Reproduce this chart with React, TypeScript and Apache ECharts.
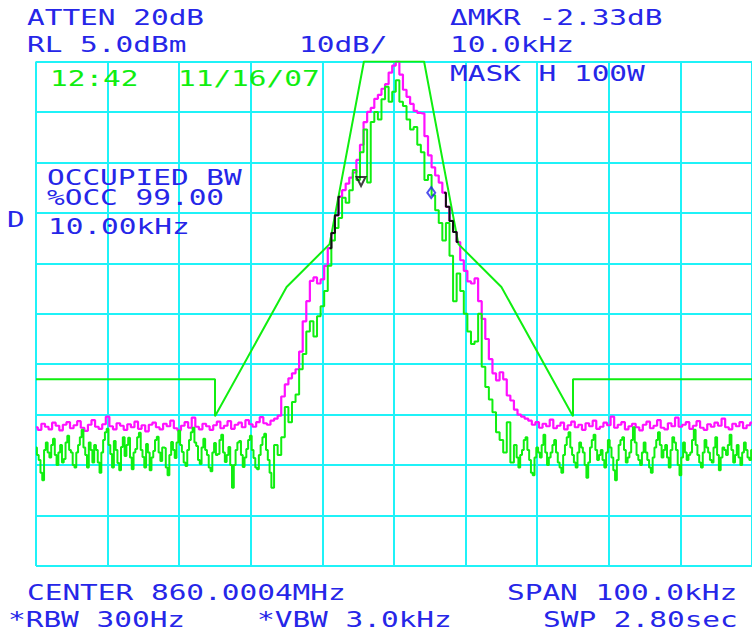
import React, { useEffect, useRef } from "react";
import * as echarts from "echarts";

// ---------- DATA ----------
// Frequency offset from centre (kHz) and level in dB relative to the reference
// level (top graticule line = 0 dB, 10 dB/div).

// Max-hold (magenta) trace, sampled every 0.5 kHz
const maxHoldTraceLeftFloor = [
  -72.5, -73.0, -71.8, -72.4, -72.9, -71.6, -72.2, -73.1, -72.0, -71.5,
  -72.7, -72.1, -71.3, -72.6, -73.2, -72.0, -71.1, -72.4, -72.8, -71.9,
  -70.4, -72.3, -72.9, -71.7, -72.2, -73.0, -71.9, -72.5, -71.4, -72.8,
  -72.1, -73.3, -72.0, -71.6, -72.5, -72.9, -71.8, -72.3, -71.2, -72.7,
  -73.1, -72.2, -71.5, -72.6, -70.6, -72.4, -72.9, -71.8, -72.3, -73.0,
  -72.1, -71.4, -72.7, -72.2, -71.3, -72.8, -72.0, -71.6, -72.5, -71.1,
  -71.9, -72.4, -71.5, -70.5, -71.7, -72.0, -71.2, -70.8,
];
const maxHoldTraceSkirt = [
  -70.2, -66.4, -64.0, -62.8, -61.8, -61.0, -57.5, -51.5, -47.5, -43.5,
  -42.8, -44.0, -43.2, -40.5, -37.0, -34.0, -30.5, -26.8, -25.5, -24.2,
  -23.0, -22.0, -19.5, -16.5, -12.0, -10.0, -9.2, -7.4, -6.6, -5.4,
  -4.5, -2.2, -0.8, 0.0, -2.6, -5.6, -7.0, -8.4, -9.8, -10.2,
  -10.3, -14.8, -18.6, -21.0, -22.6, -24.0, -26.0, -28.8, -31.6, -33.8,
  -35.8, -39.4, -41.5, -43.6, -44.0, -43.0, -47.5, -51.0, -55.0, -59.0,
  -61.8, -63.2, -61.6, -63.0, -66.2, -67.2, -69.0, -70.0, -70.4, -70.8,
  -71.2,
];
const maxHoldTraceRightFloor = [
  -72.0, -71.5, -72.6, -71.8, -72.3, -71.0, -72.7, -72.2, -71.6, -72.9,
  -72.1, -71.4, -72.5, -72.0, -73.0, -71.7, -72.3, -71.2, -72.8, -72.4,
  -71.6, -72.1, -70.4, -72.6, -72.0, -71.5, -72.9, -72.3, -71.8, -72.5,
  -73.1, -72.0, -71.4, -72.7, -72.2, -71.1, -72.6, -72.9, -71.7, -72.3,
  -70.6, -72.4, -72.0, -71.5, -72.8, -72.2, -71.3, -72.6, -73.0, -71.9,
  -72.4, -71.6, -72.2, -70.8, -72.5, -72.9, -71.8, -72.3, -71.5, -72.7,
  -72.1, -71.6,
];

// Live (green) trace: floors every 0.25 kHz, skirt every 0.5 kHz
const liveTraceLeftFloor = [
  -76.5, -78.0, -79.0, -81.5, -83.0, -77.0, -75.5, -77.5, -78.5, -76.0, -74.8, -78.0,
  -80.0, -77.5, -76.0, -79.5, -78.8, -75.5, -74.2, -77.0, -77.5, -80.0, -80.5, -77.5,
  -76.0, -74.5, -73.0, -76.5, -78.0, -80.5, -75.5, -77.0, -79.5, -76.0, -77.0, -79.5,
  -81.5, -77.5, -75.0, -73.5, -72.8, -76.0, -77.8, -80.5, -75.2, -77.0, -79.6, -81.0,
  -76.4, -74.5, -78.2, -76.0, -74.6, -78.5, -80.8, -77.5, -76.8, -74.5, -73.6, -77.0,
  -78.4, -80.5, -75.8, -77.5, -81.0, -78.5, -77.2, -75.0, -74.4, -77.5, -79.2, -76.5,
  -76.6, -80.5, -82.0, -78.0, -75.4, -77.0, -78.6, -75.5, -73.2, -76.0, -77.4, -79.5,
  -80.2, -77.0, -75.0, -73.5, -72.6, -75.5, -76.2, -79.0, -79.8, -76.5, -74.8, -77.0,
  -78.0, -80.5, -81.2, -77.5, -75.6, -78.0, -77.8, -75.0, -74.0, -77.5, -79.4, -78.0,
  -76.4, -80.0, -84.5, -80.0, -77.0, -75.5, -75.2, -78.0, -80.4, -78.5, -76.8, -75.0,
  -74.2, -77.0, -78.6, -80.5, -80.8, -78.0, -76.0, -74.5, -73.8, -77.0, -79.0, -81.5,
];
const liveTraceSkirt = [
  -84.5, -76.0, -78.0, -74.5, -68.5, -71.5, -67.5, -66.0, -61.0, -58.0,
  -53.5, -51.5, -54.5, -50.5, -48.5, -45.5, -40.5, -35.5, -33.0, -31.0,
  -27.0, -28.0, -25.5, -21.5, -23.5, -18.0, -13.5, -24.0, -12.0, -10.0,
  -11.5, -7.5, -5.0, -8.0, -6.0, -3.7, -8.0, -8.8, -11.5, -13.5,
  -13.0, -16.5, -18.0, -23.5, -22.5, -26.5, -29.5, -32.0, -35.5, -32.0,
  -38.5, -47.5, -42.0, -45.5, -50.0, -53.5, -56.0, -55.5, -50.0, -60.5,
  -64.5, -67.0, -69.5, -73.5, -75.0, -77.5, -71.5, -79.5,
];
const liveTraceRightFloor = [
  -76.0, -78.5, -80.5, -78.0, -77.0, -75.0, -74.5, -77.0, -79.0, -81.5, -82.0, -78.5,
  -76.5, -77.5, -78.5, -76.0, -74.0, -77.5, -80.0, -78.5, -77.5, -76.0, -75.0, -77.5,
  -79.5, -80.5, -81.5, -78.0, -76.0, -74.5, -73.5, -76.5, -78.0, -79.5, -80.5, -77.5,
  -75.5, -76.5, -77.5, -80.0, -82.5, -79.5, -76.5, -75.0, -74.0, -77.0, -79.0, -78.0,
  -77.0, -79.0, -80.5, -77.5, -75.0, -76.5, -78.5, -81.0, -83.0, -79.0, -76.0, -75.0,
  -74.5, -77.0, -79.5, -78.5, -77.5, -75.0, -72.5, -75.5, -78.0, -79.0, -80.0, -77.5,
  -75.5, -77.5, -79.0, -80.5, -81.5, -78.5, -76.5, -75.0, -73.5, -76.0, -78.5, -77.0,
  -76.0, -78.5, -80.5, -77.0, -74.5, -75.5, -77.0, -80.0, -82.0, -78.5, -75.5, -77.5,
  -79.0, -78.0, -77.5, -75.0, -73.0, -76.0, -78.0, -79.5, -80.5, -77.5, -75.0, -76.5,
  -77.5, -79.0, -79.5, -76.5, -74.5, -78.0, -81.0, -78.5, -76.5, -77.0, -78.0, -76.0,
  -74.0, -77.0, -79.5, -78.0, -76.0, -78.5, -80.0, -77.5, -75.5, -77.0, -78.5, -79.0,
  -77.0,
];

// Sweep segments: where each block of samples starts and its spacing (kHz)
const maxHoldSegments = [
  { startKHz: -50, stepKHz: 0.5, values: maxHoldTraceLeftFloor },
  { startKHz: -16, stepKHz: 0.5, values: maxHoldTraceSkirt },
  { startKHz: 19.5, stepKHz: 0.5, values: maxHoldTraceRightFloor },
];
const liveSegments = [
  { startKHz: -50, stepKHz: 0.25, values: liveTraceLeftFloor },
  { startKHz: -17, stepKHz: 0.5, values: liveTraceSkirt },
  { startKHz: 17, stepKHz: 0.25, values: liveTraceRightFloor },
];

// Limit mask breakpoints
const maskFreqKHz = [-50, -25, -25, -15, -9, -4.2, 4.2, 9, 15, 25, 25, 50];
const maskLevelDb = [-63, -63, -70.3, -44.7, -36.2, 0, 0, -36.2, -44.7, -70.3, -63, -63];

// Portions of the max-hold trace drawn dark where it touches the mask
const overlapLeftKHz = [-9, -8.5, -8, -7.5];
const overlapLeftDb = [-37.0, -34.0, -30.5, -26.8];
const overlapRightKHz = [7, 7.5, 8, 8.5, 9];
const overlapRightDb = [-26.0, -28.8, -31.6, -33.8, -35.8];

// Markers: reference marker and delta marker
const refMarker = [-4.6, -23.8];
const deltaMarker = [5.2, -26.0];

// Axis ranges
const FREQ_MIN = -50, FREQ_MAX = 50, FREQ_DIV = 10;
const DB_MIN = -100, DB_MAX = 0, DB_DIV = 10;

// Annotation texts
const headerTexts = ["ATTEN 20dB", "RL 5.0dBm", "10dB/", "ΔMKR -2.33dB", "10.0kHz", "MASK H 100W"];
const timeStamp = ["12:42", "11/16/07"];
const obwTexts = ["OCCUPIED BW", "%OCC 99.00", "10.00kHz", "D"];
const footerTexts = ["CENTER 860.0004MHz", "SPAN 100.0kHz", "*RBW 300Hz", "*VBW 3.0kHz", "SWP 2.80sec"];

// ---------- STYLE / LAYOUT ----------
const CYAN = "#1ff2f8";
const MAGENTA = "#ff10ff";
const GREEN = "#10ee10";
const BLUE = "#2626e8";
const BLACK = "#101010";
const FONT = '22px "DejaVu Sans Mono", "Liberation Mono", monospace';
const FONT_SCALE_X = 1.337;

type Segment = { startKHz: number; stepKHz: number; values: number[] };

const buildTrace = (segments: Segment[]) =>
  segments.flatMap((s) => s.values.map((v, i) => [s.startKHz + i * s.stepKHz, v]));

const zip = (xs: number[], ys: number[]) => xs.map((x, i) => [x, ys[i]]);

function txt(text: string, x: number, y: number, fill: string) {
  return {
    type: "text",
    x,
    y,
    scaleX: FONT_SCALE_X,
    z: 100,
    silent: true,
    style: { text, x: 0, y: 0, font: FONT, fill, align: "left", verticalAlign: "middle" },
  };
}

export default function App() {
  const ref = useRef<HTMLDivElement>(null);

  useEffect(() => {
    if (!ref.current) return;
    const chart = echarts.init(ref.current, null, { renderer: "svg" });

    const magenta = buildTrace(maxHoldSegments);
    const green = buildTrace(liveSegments);

    const graphic = [
      txt(headerTexts[0], 27, 17, BLUE),
      txt(headerTexts[1], 27, 44, BLUE),
      txt(headerTexts[2], 299, 44, BLUE),
      txt(headerTexts[3], 450, 17, BLUE),
      txt(headerTexts[4], 450, 44, BLUE),
      txt(headerTexts[5], 450, 73, BLUE),
      txt(timeStamp[0], 50, 78, GREEN),
      txt(timeStamp[1], 178, 78, GREEN),
      txt(obwTexts[0], 47, 177, BLUE),
      txt(obwTexts[1], 47, 197, BLUE),
      txt(obwTexts[2], 48, 226, BLUE),
      txt(obwTexts[3], 7, 219, BLUE),
      txt(footerTexts[0], 27, 592, BLUE),
      txt(footerTexts[1], 507, 592, BLUE),
      txt(footerTexts[2], 8, 619, BLUE),
      txt(footerTexts[3], 257, 619, BLUE),
      txt(footerTexts[4], 543, 619, BLUE),
    ];

    const lineBase = {
      type: "line",
      showSymbol: false,
      symbol: "none",
      silent: true,
      clip: true,
    };

    chart.setOption({
      animation: false,
      backgroundColor: "#ffffff",
      grid: { left: 36, top: 61.5, width: 720, height: 504.5, containLabel: false },
      xAxis: {
        type: "value",
        min: FREQ_MIN,
        max: FREQ_MAX,
        interval: FREQ_DIV,
        axisLine: { show: false },
        axisTick: { show: false },
        axisLabel: { show: false },
        splitLine: { show: true, lineStyle: { color: CYAN, width: 2 } },
      },
      yAxis: {
        type: "value",
        min: DB_MIN,
        max: DB_MAX,
        interval: DB_DIV,
        axisLine: { show: false },
        axisTick: { show: false },
        axisLabel: { show: false },
        splitLine: { show: true, lineStyle: { color: CYAN, width: 2 } },
      },
      series: [
        {
          ...lineBase,
          name: "max hold",
          step: "middle",
          data: magenta,
          z: 3,
          lineStyle: { color: MAGENTA, width: 2.2 },
        },
        {
          ...lineBase,
          name: "live",
          step: "middle",
          data: green,
          z: 4,
          lineStyle: { color: GREEN, width: 2 },
        },
        {
          ...lineBase,
          name: "mask",
          data: zip(maskFreqKHz, maskLevelDb),
          z: 5,
          lineStyle: { color: GREEN, width: 2 },
        },
        {
          ...lineBase,
          name: "overlap L",
          step: "middle",
          data: zip(overlapLeftKHz, overlapLeftDb),
          z: 6,
          lineStyle: { color: BLACK, width: 2 },
        },
        {
          ...lineBase,
          name: "overlap R",
          step: "middle",
          data: zip(overlapRightKHz, overlapRightDb),
          z: 6,
          lineStyle: { color: BLACK, width: 2 },
        },
        {
          type: "scatter",
          name: "marker",
          silent: true,
          z: 7,
          symbol: "triangle",
          symbolRotate: 180,
          symbolSize: 9,
          data: [refMarker],
          itemStyle: { color: "rgba(0,0,0,0)", borderColor: BLACK, borderWidth: 2 },
        },
        {
          type: "scatter",
          name: "delta marker",
          silent: true,
          z: 7,
          symbol: "diamond",
          symbolSize: [8, 11],
          data: [deltaMarker],
          itemStyle: { color: "rgba(0,0,0,0)", borderColor: BLUE, borderWidth: 2 },
        },
      ],
      graphic,
    });

    return () => chart.dispose();
  }, []);

  return (
    <div
      ref={ref}
      style={{ position: "absolute", left: 0, top: 0, width: 752, height: 637, background: "#fff" }}
    />
  );
}
